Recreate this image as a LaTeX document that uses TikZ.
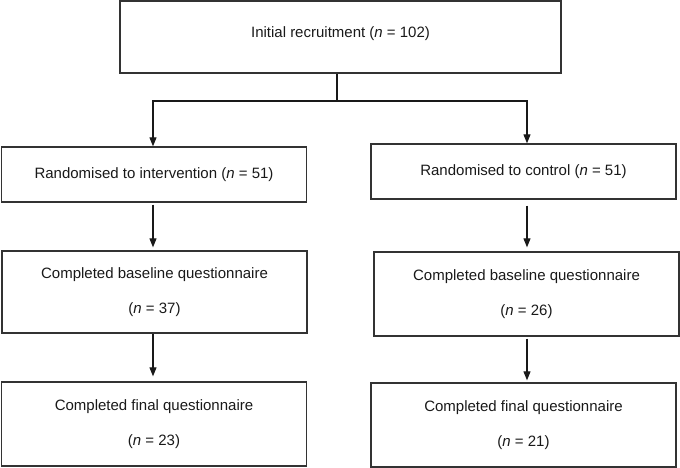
\documentclass[tikz,border=0pt]{standalone}
\usepackage{fontspec}
\setmainfont{Liberation Sans}
\usetikzlibrary{arrows.meta}

\begin{document}
\begin{tikzpicture}[x=1pt,y=-1pt,>={Triangle[width=7pt,length=9pt]},
  box/.style={rectangle,draw=black!80,line width=1.3pt,inner sep=0pt,
    minimum width=305pt,align=center,text=black!90,
    font=\fontsize{15}{35}\selectfont},
  link/.style={line width=1.1pt,draw=black!90}]

          \useasboundingbox (0,0) rectangle (680,468);

          \node[box, minimum width=441pt, minimum height=72pt, text depth=9pt] (r) at (340.5,37) {Initial recruitment (\textit{n} = 102)};

          \node[box, minimum height=55pt] (i1) at (154,174.5) {Randomised to intervention (\textit{n} = 51)};
          \node[box, minimum height=82pt] (i2) at (154.5,292) {Completed baseline questionnaire\\(\textit{n} = 37)};
          \node[box, minimum height=84pt] (i3) at (154,424) {Completed final questionnaire\\(\textit{n} = 23)};

          \node[box, minimum height=55pt] (c1) at (523.5,171.5) {Randomised to control (\textit{n} = 51)};
          \node[box, minimum height=84pt] (c2) at (526.5,294) {Completed baseline questionnaire\\(\textit{n} = 26)};
          \node[box, minimum height=84pt] (c3) at (523.5,425) {Completed final questionnaire\\(\textit{n} = 21)};

          \coordinate (split) at (337,101);
          \coordinate (lcol) at (153,0);
          \coordinate (rcol) at (527,0);

          \draw[link] (r.south -| split) -- (split);
          \draw[link,->] (split) -| (i1.north -| lcol);
          \draw[link,->] (split) -| (c1.north -| rcol);

          \draw[link,->,shorten <=2pt,shorten >=3pt] (i1.south -| lcol) -- (i2.north -| lcol);
          \draw[link,->,shorten >=5pt] (i2.south -| lcol) -- (i3.north -| lcol);

          \draw[link,->,shorten <=6pt,shorten >=4pt] (c1.south -| rcol) -- (c2.north -| rcol);
          \draw[link,->,shorten <=2pt,shorten >=2pt] (c2.south -| rcol) -- (c3.north -| rcol);
        \end{tikzpicture}
\end{document}
